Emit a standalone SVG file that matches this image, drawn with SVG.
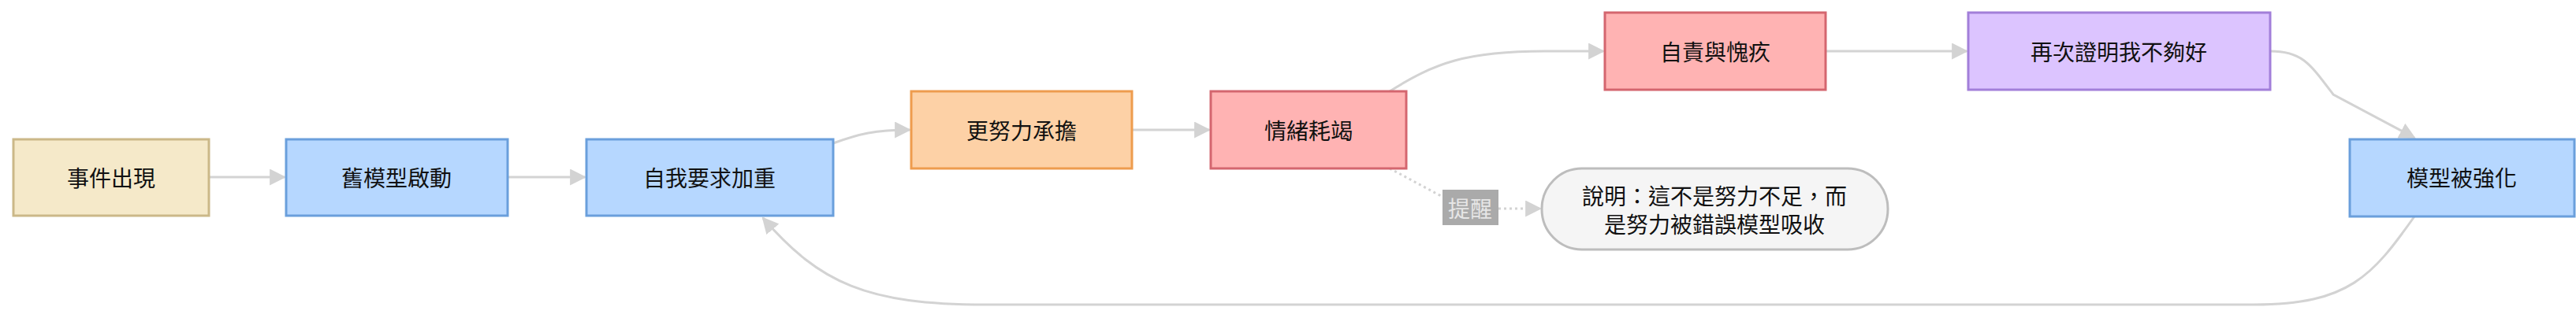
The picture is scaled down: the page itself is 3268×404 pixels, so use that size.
<svg xmlns="http://www.w3.org/2000/svg" width="3268" height="404" viewBox="0 0 3268 404">
<style>
text{font-family:"Noto Sans CJK TC","Noto Sans CJK SC",sans-serif;font-size:28px;fill:#111;text-anchor:middle;dominant-baseline:central}
.e{fill:none;stroke:#d3d3d3;stroke-width:3}
.d{stroke-dasharray:3 4}
rect{stroke-width:3}
</style>
<defs><marker id="a" viewBox="0 0 10 10" refX="9" refY="5" markerWidth="6" markerHeight="6" markerUnits="userSpaceOnUse" orient="auto"><path d="M0 0L10 5L0 10z" fill="#d3d3d3"/></marker>
<marker id="b" viewBox="0 0 10 10" refX="9" refY="5" markerWidth="7" markerHeight="7" orient="auto"><path d="M0 0L10 5L0 10z" fill="#d3d3d3"/></marker></defs>
<rect width="3268" height="404" fill="#fff" stroke="none"/>
<g id="edges">
<path class="e" d="M265 225H361" marker-end="url(#b)"/>
<path class="e" d="M644 225H742" marker-end="url(#b)"/>
<path class="e" d="M1057 182C1090 170 1110 165 1154 165" marker-end="url(#b)"/>
<path class="e" d="M1436 165H1534" marker-end="url(#b)"/>
<path class="e" d="M1763 116C1820 80 1860 65 1960 65H2034" marker-end="url(#b)"/>
<path class="e" d="M2316 65H2495" marker-end="url(#b)"/>
<path class="e" d="M2880 65C2920 65 2930 80 2960 120L3063 175" marker-end="url(#b)"/>
<path class="e" d="M3063 275C3010 350 2980 387 2860 387H1250C1100 387 1040 360 968 277" marker-end="url(#b)"/>
<path class="e d" d="M1763 214L1830 250"/>
<path class="e d" d="M1901 265H1954" marker-end="url(#b)"/>
</g>
<g id="n1"><rect x="17" y="177" width="248" height="97" fill="#f5e9c9" stroke="#cbb888"/><text x="141" y="225">事件出現</text></g>
<g id="n2"><rect x="363" y="177" width="281" height="97" fill="#b6d7ff" stroke="#6a9fdc"/><text x="503" y="225">舊模型啟動</text></g>
<g id="n3"><rect x="744" y="177" width="313" height="97" fill="#b6d7ff" stroke="#6a9fdc"/><text x="900" y="225">自我要求加重</text></g>
<g id="n4"><rect x="1156" y="116" width="280" height="98" fill="#fdd1a6" stroke="#ee9c4e"/><text x="1296" y="165">更努力承擔</text></g>
<g id="n5"><rect x="1536" y="116" width="248" height="98" fill="#ffb3b3" stroke="#d4666f"/><text x="1660" y="165">情緒耗竭</text></g>
<g id="n6"><rect x="2036" y="16" width="280" height="98" fill="#ffb3b3" stroke="#d4666f"/><text x="2176" y="65">自責與愧疚</text></g>
<g id="n7"><rect x="2497" y="16" width="383" height="98" fill="#dcc4ff" stroke="#a27fd9"/><text x="2688" y="65">再次證明我不夠好</text></g>
<g id="n8"><rect x="2981" y="177" width="285" height="98" fill="#b6d7ff" stroke="#6a9fdc"/><text x="3123" y="225">模型被強化</text></g>
<g id="lbl"><rect x="1830" y="241" width="71" height="45" fill="#aaa" stroke="none"/><text x="1865" y="264" style="fill:#e6e6e6">提醒</text></g>
<g id="note"><rect x="1956" y="214" width="439" height="103" rx="51" fill="#f5f5f5" stroke="#bdbdbd" stroke-width="2"/><text x="2175" y="248">說明：這不是努力不足，而</text><text x="2175" y="284">是努力被錯誤模型吸收</text></g>
</svg>
